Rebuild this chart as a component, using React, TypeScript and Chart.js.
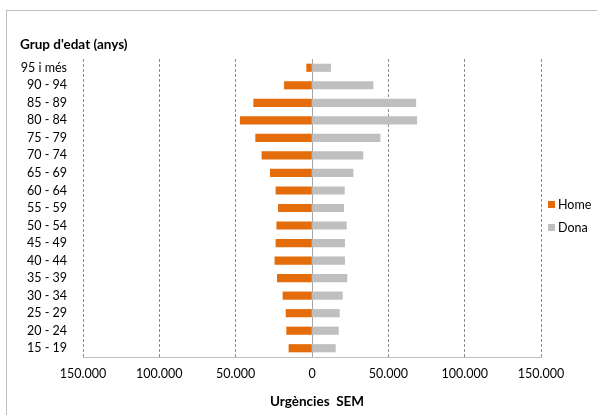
import React, { useEffect, useRef } from "react";
import { Chart, registerables } from "chart.js";

Chart.register(...registerables);

const categories = [
  "95 i més", "90 - 94", "85 - 89", "80 - 84", "75 - 79", "70 - 74", "65 - 69",
  "60 - 64", "55 - 59", "50 - 54", "45 - 49", "40 - 44", "35 - 39", "30 - 34",
  "25 - 29", "20 - 24", "15 - 19",
];
const homeValues = [
  3500, 18100, 38200, 47000, 36900, 32800, 27300, 23600, 22000, 23100, 23600,
  24300, 22700, 19000, 17000, 16600, 15100,
];
const donaValues = [
  12200, 40000, 68000, 68600, 44600, 33400, 26900, 21200, 20800, 22500, 21400,
  21400, 22900, 19900, 17900, 17300, 15300,
];
const xTickValues = [-150000, -100000, -50000, 0, 50000, 100000, 150000];

const FONT = "Lato, 'Open Sans', sans-serif";
const ORANGE = "#E46C0A";
const GRAY = "#BFBFBF";

function fmt(v: number): string {
  return String(Math.abs(Math.round(v))).replace(/\B(?=(\d{3})+(?!\d))/g, ".");
}

export default function App() {
  const ref = useRef<HTMLCanvasElement | null>(null);

  useEffect(() => {
    if (!ref.current) return;
    const chart = new Chart(ref.current, {
      type: "bar",
      data: {
        labels: categories,
        datasets: [
          {
            label: "Home",
            data: homeValues.map((v) => -v),
            backgroundColor: ORANGE,
            barThickness: 7.5,
          },
          {
            label: "Dona",
            data: donaValues,
            backgroundColor: GRAY,
            barThickness: 7.5,
          },
        ],
      },
      options: {
        indexAxis: "y",
        animation: false,
        responsive: false,
        devicePixelRatio: 1,
        layout: { padding: { top: 59, right: 56, left: 0, bottom: 0 } },
        plugins: { legend: { display: false }, tooltip: { enabled: false } },
        scales: {
          x: {
            type: "linear",
            stacked: true,
            min: -150000,
            max: 150000,
            afterBuildTicks: (scale: any) => {
              scale.ticks = xTickValues.map((v) => ({ value: v }));
            },
            afterFit: (scale: any) => {
              scale.height = 58;
            },
            ticks: {
              callback: (v: any) => fmt(Number(v)),
              color: "#000",
              font: { family: FONT, size: 12.5 },
              padding: 9,
              maxRotation: 0,
              autoSkip: false,
            },
            grid: {
              drawTicks: false,
              color: (ctx: any) =>
                ctx.tick && ctx.tick.value === 0 ? "#A6A6A6" : "#8C8C8C",
              lineWidth: 1,
            },
            border: {
              display: true,
              color: "#BFBFBF",
              width: 1,
              dash: (ctx: any) =>
                ctx.tick && ctx.tick.value !== 0 ? [3, 2] : [],
            },
          },
          y: {
            stacked: true,
            afterFit: (scale: any) => {
              scale.width = 83;
            },
            ticks: {
              color: "#000",
              font: { family: FONT, size: 12.5 },
              padding: 16,
              autoSkip: false,
            },
            grid: { display: false, drawTicks: false },
            border: { display: false },
          },
        },
      },
    } as any);
    return () => chart.destroy();
  }, []);

  return (
    <div
      style={{
        position: "fixed",
        left: 0,
        top: 0,
        width: 597,
        height: 415,
        background: "#fff",
        overflow: "hidden",
        fontFamily: FONT,
      }}
    >
      <div
        style={{
          position: "absolute",
          left: 6,
          top: 10,
          width: 620,
          height: 430,
          border: "1px solid #BFBFBF",
          boxSizing: "border-box",
        }}
      />
      <canvas
        ref={ref}
        width={597}
        height={415}
        style={{ position: "absolute", left: 0, top: 0, width: 597, height: 415 }}
      />
      <div
        style={{
          position: "absolute",
          left: 20,
          top: 35,
          fontSize: 13.5,
          fontWeight: 700,
          lineHeight: "18px",
          color: "#000",
          whiteSpace: "nowrap",
        }}
      >
        Grup d'edat (anys)
      </div>
      <div
        style={{
          position: "absolute",
          left: 217,
          width: 200,
          top: 392,
          textAlign: "center",
          fontSize: 13.5,
          fontWeight: 700,
          lineHeight: "18px",
          color: "#000",
          whiteSpace: "pre",
        }}
      >
        {"Urgències  SEM"}
      </div>
      {[
        { label: "Home", color: ORANGE, y: 204 },
        { label: "Dona", color: GRAY, y: 227 },
      ].map((it) => (
        <div
          key={it.label}
          style={{
            position: "absolute",
            left: 548,
            top: it.y - 9,
            height: 18,
            display: "flex",
            alignItems: "center",
            fontSize: 12.5,
            color: "#000",
            whiteSpace: "nowrap",
          }}
        >
          <span
            style={{
              display: "inline-block",
              width: 7,
              height: 7,
              background: it.color,
              marginRight: 3,
            }}
          />
          {it.label}
        </div>
      ))}
    </div>
  );
}
